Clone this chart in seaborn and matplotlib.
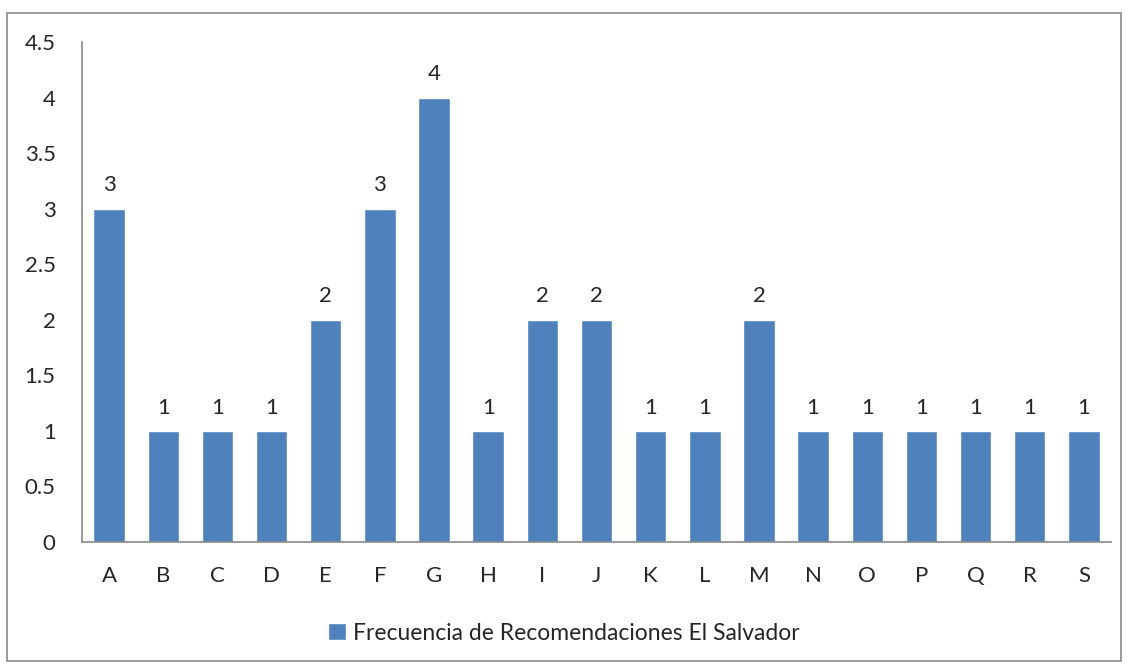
import matplotlib
matplotlib.use("Agg")
import matplotlib.pyplot as plt
import seaborn as sns
import pandas as pd
from matplotlib.patches import Rectangle

categories = list("ABCDEFGHIJKLMNOPQRS")
values = [3, 1, 1, 1, 2, 3, 4, 1, 2, 2, 1, 1, 2, 1, 1, 1, 1, 1, 1]
yticks = [0, 0.5, 1, 1.5, 2, 2.5, 3, 3.5, 4, 4.5]
ytick_labels = ["0", "0.5", "1", "1.5", "2", "2.5", "3", "3.5", "4", "4.5"]
series_name = "Frecuencia de Recomendaciones El Salvador"

df = pd.DataFrame({"cat": categories, "val": values})

sns.set_style("white")
plt.rcParams["font.family"] = ["Lato", "DejaVu Sans"]

fig = plt.figure(figsize=(11.28, 6.68), dpi=100)
ax = fig.add_axes([82 / 1128, 1 - 542 / 668, (1111 - 82) / 1128, (542 - 42) / 668])

sns.barplot(data=df, x="cat", y="val", color="#4F81BD", saturation=1,
            width=0.58, ax=ax, label=series_name)

# value labels above the bars
for i, v in enumerate(values):
    ax.text(i, v + 0.12, str(v), ha="center", va="bottom", fontsize=16)

ax.set_ylim(0, 4.5)
ax.set_xlim(-0.5, len(categories) - 0.5)
ax.set_yticks(yticks)
ax.set_yticklabels(ytick_labels, fontsize=16)
ax.tick_params(axis="x", labelsize=16, length=0, pad=17)
ax.tick_params(axis="y", length=0, pad=19)
ax.set_xlabel("")
ax.set_ylabel("")

for s in ["top", "right"]:
    ax.spines[s].set_visible(False)
for s in ["left", "bottom"]:
    ax.spines[s].set_color("#898989")
    ax.spines[s].set_linewidth(1.2)

ax.legend(loc="center", bbox_to_anchor=(0.5, 1 - 633 / 668), bbox_transform=fig.transFigure,
          frameon=False, fontsize=16.5, handlelength=0.8, handleheight=0.8, handletextpad=0.3)

fig.patches.append(Rectangle((7 / 1128, 7 / 668), 1 - 14 / 1128, 1 - 20 / 668,
                             transform=fig.transFigure, fill=False,
                             edgecolor="#898989", linewidth=1.2))

fig.savefig("out.png", dpi=100)
